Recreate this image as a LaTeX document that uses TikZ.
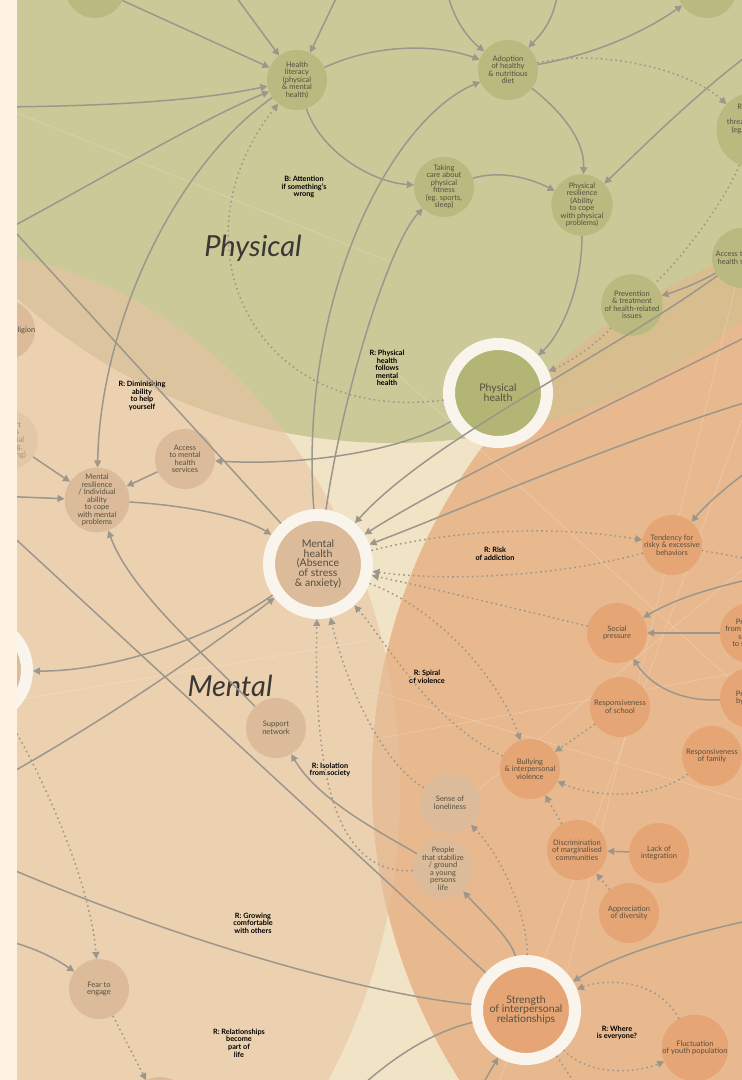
\documentclass[tikz,border=0pt]{standalone}
\usepackage{fontspec}
\setmainfont{Lato}
\usetikzlibrary{arrows.meta}

\definecolor{stripbg}{HTML}{FEF2E3}
\definecolor{creambg}{HTML}{F1E3C5}
\definecolor{physbg}{HTML}{CCC998}
\definecolor{mentbg}{HTML}{ECD1B1}
\definecolor{socbg}{HTML}{E8B98F}
\definecolor{pmbg}{HTML}{DCC59E}
\definecolor{psbg}{HTML}{D8BE8E}
\definecolor{msbg}{HTML}{E6BE97}
\definecolor{physnode}{HTML}{BAB97F}
\definecolor{physbig}{HTML}{B3B575}
\definecolor{mentnode}{HTML}{DBBB9A}
\definecolor{socnode}{HTML}{E6A575}
\definecolor{ringc}{HTML}{FAF5EC}
\definecolor{linkc}{HTML}{9C978C}
\definecolor{nodetxt}{HTML}{55503F}
\definecolor{titletxt}{HTML}{3A3834}

\tikzset{
  nd/.style={circle, inner sep=0pt, minimum size=60pt, align=center, text=nodetxt,
    font=\fontsize{7.5}{7.5}\selectfont},
  pnode/.style={nd, fill=physnode},
  mnode/.style={nd, fill=mentnode},
  snode/.style={nd, fill=socnode},
  bignd/.style={circle, inner sep=0pt, minimum size=98pt, draw=ringc, line width=12pt,
    align=center, text=nodetxt, font=\fontsize{10.5}{9.8}\selectfont},
  bigp/.style={bignd, fill=physbig},
  bigm/.style={bignd, fill=mentnode},
  bigs/.style={bignd, fill=socnode},
  link/.style={draw=linkc, line width=1.5pt},
  arr/.style={link, -{Triangle[length=7pt,width=7pt]}},
  dots/.style={link, dash pattern=on 1.6pt off 3.3pt},
  darr/.style={dots, -{Triangle[length=7pt,width=7pt]}},
  faint/.style={draw=white, draw opacity=0.2, line width=0.7pt},
  looplabel/.style={font=\bfseries\fontsize{7.3}{7.6}\selectfont, align=center, text=black},
  areatitle/.style={font=\itshape\fontsize{29}{30}\selectfont, text=titletxt},
}

\begin{document}
\begin{tikzpicture}[x=1pt,y=-1pt]
\useasboundingbox (0,0) rectangle (742,1080);

% ---- the three overlapping areas ----
\fill[creambg] (0,0) rectangle (742,1080);
\fill[physbg] (393,-117) circle (560);
\fill[mentbg] (-60,790) ellipse (460 and 540);
\fill[socbg] (930,780) circle (558);
\begin{scope}
  \clip (393,-117) circle (560);
  \fill[pmbg] (-60,790) ellipse (460 and 540);
  \fill[psbg] (930,780) circle (558);
\end{scope}
\begin{scope}
  \clip (-60,790) ellipse (460 and 540);
  \fill[msbg] (930,780) circle (558);
\end{scope}

% ---- faint background strokes ----
\draw[faint] (17,113) -- (390,262);
\draw[faint] (390,367) -- (600,560) -- (742,690);
\draw[faint] (370,740) -- (742,672);
\draw[faint] (430,830) -- (742,570);
\draw[faint] (560,1000) -- (742,260);
\draw[faint] (500,1080) -- (742,420);
\draw[faint] (370,690) -- (742,800);
\draw[faint] (17,700) -- (370,640);

% ---- area titles and loop labels ----
\node[areatitle] (tphys) at (253,248) {Physical};
\node[areatitle] (tment) at (230,686) {Mental};
\node[looplabel] (lattn) at (304,187) {B: Attention\\if something's\\wrong};
\node[looplabel] (ldimin) at (142,396) {R: Diminishing\\ability\\to help\\yourself};
\node[looplabel] (lfollow) at (387,368) {R: Physical\\health\\follows\\mental\\health};
\node[looplabel] (laddict) at (495,554) {R: Risk\\of addiction};
\node[looplabel] (lspiral) at (427,677) {R: Spiral\\of violence};
\node[looplabel] (lisol) at (330,770) {R: Isolation\\from society};
\node[looplabel] (lgrow) at (253,923) {R: Growing\\comfortable\\with others};
\node[looplabel] (lrel) at (239,1043) {R: Relationships\\become\\part of\\life};
\node[looplabel] (lwhere) at (617,1033) {R: Where\\is everyone?};

% ---- physical factors ----
\node[pnode] (topleft) at (95,-12) {};
\node[pnode] (topright) at (707,-12) {};
\node[pnode] (hl) at (297,80) {Health\\literacy\\(physical\\\& mental\\health)};
\node[pnode] (diet) at (508,70) {Adoption\\of healthy\\\& nutritious\\diet};
\node[pnode] (fit) at (444,187) {Taking\\care about\\physical\\fitness\\(eg. sports,\\sleep)};
\node[pnode] (pres) at (582,205) {Physical\\resilience\\(Ability\\to cope\\with physical\\problems)};
\node[pnode] (threat) at (754,130) {Reduction\\of\\threats to health\\(eg. pollution,\\noise,\\stress)\\danger)};
\node[pnode] (hserv) at (742,258) {Access to public\\health services};
\node[pnode] (prev) at (632,305) {Prevention\\\& treatment\\of health-related\\issues};
\node[bigp] (ph) at (498,393) {Physical\\health};

% ---- mental factors ----
\node[mnode] (relig) at (5,330) {};
\node[inner sep=0pt, anchor=west, text=nodetxt, font=\fontsize{7.5}{7.5}\selectfont] (religtxt) at (9,330) {Religion};
\node[mnode, fill opacity=0.45, text opacity=0.45] (peer) at (8,440) {Support\\groups\\(eg. social\\working,\\mentoring)};
\node[mnode] (mres) at (97,500) {Mental\\resilience\\/ Individual\\ability\\to cope\\with mental\\problems};
\node[mnode] (mserv) at (185,459) {Access\\to mental\\health\\services};
\node[bigm] (mh) at (318,564) {Mental\\health\\(Absence\\of stress\\\& anxiety)};
\node[bigm] (leftbig) at (-22,670) {};
\node[mnode] (support) at (276,728) {Support\\network};
\node[mnode] (fear) at (99,989) {Fear to\\engage};
\node[mnode] (lowleft) at (160,1107) {};
\node[mnode] (lonely) at (450,803) {Sense of\\loneliness};
\node[mnode] (stabil) at (443,869) {People\\that stabilize\\/ ground\\a young\\persons\\life};

% ---- social factors ----
\node[snode] (risky) at (672,545) {Tendency for\\risky \& excessive\\behaviors};
\node[snode] (spress) at (617,633) {Social\\pressure};
\node[snode] (prfrom) at (750,633) {Pressure\\from parents \&\\society\\to succeed};
\node[snode] (prby) at (750,698) {Pressure\\by peers};
\node[snode] (rschool) at (620,707) {Responsiveness\\of school};
\node[snode] (rfamily) at (712,756) {Responsiveness\\of family};
\node[snode] (bully) at (530,769) {Bullying\\\& interpersonal\\violence};
\node[snode] (discr) at (577,850) {Discrimination\\of marginalised\\communities};
\node[snode] (lack) at (659,853) {Lack of\\integration};
\node[snode] (appr) at (629,913) {Appreciation\\of diversity};
\node[bigs] (strength) at (526,1010) {Strength\\of interpersonal\\relationships};
\node[snode] (youth) at (695,1048) {Fluctuation\\of youth population};

% ---- free ends of links leaving the sheet ----
\coordinate (inA) at (228,-14);
\coordinate (inB) at (342,-14);
\coordinate (inC) at (-5,107);
\coordinate (inD) at (-5,236);
\coordinate (inE) at (-5,210);
\coordinate (inF) at (446,-14);
\coordinate (inG) at (558,-14);
\coordinate (inH) at (760,46);
\coordinate (inI) at (760,330);
\coordinate (inV) at (760,398);
\coordinate (inJ) at (-5,496);
\coordinate (inK) at (-5,782);
\coordinate (inL) at (-5,520);
\coordinate (inM) at (-5,938);
\coordinate (inN) at (-5,862);
\coordinate (inO) at (355,1092);
\coordinate (inP) at (478,1092);
\coordinate (inQ) at (760,918);
\coordinate (inR) at (760,462);
\coordinate (inS) at (760,561);
\coordinate (inT) at (760,577);
\coordinate (outU) at (582,1094);

% ---- links in the physical area ----
\draw[arr] (topleft) -- (hl);
\draw[arr] (inA) -- (hl);
\draw[arr] (inB) -- (hl);
\draw[arr] (inC) .. controls (150,106) and (220,96) .. (hl);
\draw[arr] (inD) .. controls (100,180) and (200,120) .. (hl);
\draw[arr] (hl) .. controls (380,42) and (440,45) .. (diet);
\draw[arr] (inF) .. controls (452,20) and (470,40) .. (diet);
\draw[arr] (inG) .. controls (556,20) and (540,35) .. (diet);
\draw[arr] (diet) .. controls (590,55) and (640,35) .. (topright);
\draw[darr] (diet) .. controls (600,48) and (690,70) .. (threat);
\draw[arr] (mh) .. controls (298,300) and (390,120) .. (diet);
\draw[arr] (hl) .. controls (320,150) and (370,182) .. (fit);
\draw[arr] (mh) .. controls (345,380) and (392,240) .. (fit);
\draw[arr] (fit) .. controls (500,170) and (530,178) .. (pres);
\draw[arr] (diet) .. controls (560,110) and (585,140) .. (pres);
\draw[arr] (inH) .. controls (700,90) and (650,140) .. (pres);
\draw[dots] (threat) .. controls (725,200) and (685,255) .. (prev);
\draw[arr] (hserv) .. controls (700,282) and (680,290) .. (prev);
\draw[arr] (pres) .. controls (582,290) and (560,335) .. (ph);
\draw[darr] (prev) .. controls (600,340) and (575,360) .. (ph);
\draw[arr] (hserv) .. controls (600,360) and (430,440) .. (mh);
\draw[arr] (inI) .. controls (600,410) and (450,480) .. (mh);
\draw[arr] (inV) .. controls (620,440) and (460,510) .. (mh);
\draw[arr] (ph) .. controls (400,452) and (300,466) .. (mserv);
\draw[darr] (ph) .. controls (250,425) and (170,240) .. (hl);

% ---- links in the mental area ----
\draw[link] (inE) -- (mh);
\draw[arr] (hl) .. controls (170,170) and (100,330) .. (mres);
\draw[arr] (mserv) -- (mres);
\draw[arr] (peer) -- (mres);
\draw[arr] (inJ) -- (mres);
\draw[arr] (mres) .. controls (180,505) and (240,515) .. (mh);
\draw[arr] (support) .. controls (200,650) and (130,590) .. (mres);
\draw[arr] (mh) .. controls (200,645) and (100,672) .. (leftbig);
\draw[arr] (inK) .. controls (120,712) and (220,640) .. (mh);
\draw[link] (inL) -- (strength);
\draw[darr] (leftbig) .. controls (40,770) and (90,880) .. (fear);
\draw[arr] (inM) .. controls (30,945) and (55,958) .. (fear);
\draw[darr] (fear) -- (lowleft);
\draw[link] (inN) .. controls (150,930) and (350,992) .. (strength);
\draw[link] (inO) .. controls (400,1050) and (440,1030) .. (strength);
\draw[arr] (inP) -- (strength);
\draw[arr] (strength) .. controls (512,940) and (482,912) .. (stabil);
\draw[darr] (strength) .. controls (528,920) and (505,860) .. (lonely);
\draw[arr] (stabil) .. controls (380,832) and (318,800) .. (support);
\draw[darr] (lonely) .. controls (380,762) and (345,680) .. (mh);
\draw[darr] (stabil) .. controls (330,875) and (314,760) .. (mh);

% ---- loops between mental health and the social area ----
\draw[darr] (mh) .. controls (460,528) and (560,526) .. (risky);
\draw[darr] (risky) .. controls (560,576) and (450,582) .. (mh);
\draw[darr] (spress) .. controls (520,610) and (440,590) .. (mh);
\draw[darr] (mh) .. controls (440,610) and (500,680) .. (bully);
\draw[darr] (bully) .. controls (430,722) and (385,640) .. (mh);

% ---- links in the social area ----
\draw[arr] (inR) .. controls (735,480) and (710,500) .. (risky);
\draw[dots] (risky) -- (inS);
\draw[arr] (inT) .. controls (700,590) and (670,602) .. (spress);
\draw[arr] (prfrom) -- (spress);
\draw[arr] (prby) .. controls (680,702) and (650,685) .. (spress);
\draw[darr] (rschool) -- (bully);
\draw[darr] (rfamily) .. controls (650,802) and (590,796) .. (bully);
\draw[darr] (discr) -- (bully);
\draw[arr] (lack) -- (discr);
\draw[darr] (appr) -- (discr);
\draw[arr] (inQ) .. controls (650,942) and (605,962) .. (strength);
\draw[darr] (youth) .. controls (655,975) and (600,980) .. (strength);
\draw[darr] (strength) .. controls (590,1078) and (640,1072) .. (youth);
\draw[dots] (strength) -- (outU);

% ---- paper margin on the left ----
\fill[stripbg] (0,0) rectangle (17,1080);
\end{tikzpicture}
\end{document}
